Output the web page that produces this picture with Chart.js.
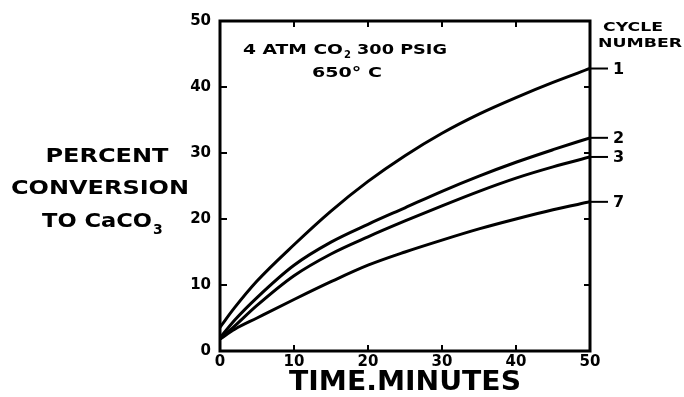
<!DOCTYPE html>
<html>
<head>
<meta charset="utf-8">
<script src="https://cdn.jsdelivr.net/npm/chart.js@4.4.0/dist/chart.umd.min.js"></script>
<style>
  body { margin: 0; background: #fff; }
  canvas { display: block; }
</style>
</head>
<body>
<canvas id="conversionChart" width="684" height="397"></canvas>
<script>
const minutes = [0, 2, 5, 10, 15, 20, 25, 30, 35, 40, 45, 50];
const cycle1 = [3.6, 6.6, 10.6, 16.1, 21.2, 25.7, 29.6, 33, 35.9, 38.4, 40.7, 42.8];
const cycle2 = [2, 4.7, 8.1, 13, 16.5, 19.2, 21.7, 24.2, 26.5, 28.6, 30.5, 32.3];
const cycle3 = [1.8, 3.8, 6.9, 11.4, 14.7, 17.3, 19.7, 22, 24.2, 26.2, 27.9, 29.4];
const cycle7 = [1.8, 3.3, 5, 7.8, 10.5, 13, 15, 16.8, 18.5, 20, 21.4, 22.6];
const cycleLabels = ["1", "2", "3", "7"];
const tickValues = [10, 20, 30, 40];

const FONT = "'DejaVu Sans', sans-serif";

function toPoints(values) {
  return values.map((v, i) => ({ x: minutes[i], y: v }));
}

// draw text squeezed/stretched to a given width
function fitText(ctx, text, x, y, size, width, align) {
  ctx.save();
  ctx.font = "bold " + size + "px " + FONT;
  const w = ctx.measureText(text).width;
  const k = width ? width / w : 1;
  let left = x;
  if (align === "center") left = x - (w * k) / 2;
  if (align === "right") left = x - w * k;
  ctx.translate(left, y);
  ctx.scale(k, 1);
  ctx.textAlign = "left";
  ctx.textBaseline = "middle";
  ctx.fillText(text, 0, 0);
  ctx.restore();
  return w * k;
}

const decorations = {
  id: "decorations",
  afterDraw(chart) {
    const ctx = chart.ctx;
    const area = chart.chartArea;
    const xs = chart.scales.x;
    const ys = chart.scales.y;
    ctx.save();
    ctx.fillStyle = "#000";
    ctx.strokeStyle = "#000";

    // frame
    ctx.lineWidth = 3;
    ctx.strokeRect(area.left, area.top, area.right - area.left, area.bottom - area.top);

    // inner ticks
    ctx.lineWidth = 2;
    ctx.beginPath();
    tickValues.forEach((v) => {
      const px = xs.getPixelForValue(v);
      ctx.moveTo(px, area.bottom);
      ctx.lineTo(px, area.bottom - 6);
      ctx.moveTo(px, area.top);
      ctx.lineTo(px, area.top + 6);
      const py = ys.getPixelForValue(v);
      ctx.moveTo(area.left, py);
      ctx.lineTo(area.left + 7, py);
      ctx.moveTo(area.right, py);
      ctx.lineTo(area.right - 6, py);
    });
    ctx.stroke();

    // cycle labels at the end of each curve
    chart.data.datasets.forEach((ds, i) => {
      const meta = chart.getDatasetMeta(i);
      const last = meta.data[meta.data.length - 1];
      ctx.lineWidth = 2;
      ctx.beginPath();
      ctx.moveTo(area.right, last.y);
      ctx.lineTo(area.right + 18, last.y);
      ctx.stroke();
      fitText(ctx, cycleLabels[i], area.right + 23, last.y + 1, 16, null, "left");
    });

    // right header
    fitText(ctx, "CYCLE", 633, 28, 13, 60, "center");
    fitText(ctx, "NUMBER", 640, 44, 13, 84, "center");

    // y title
    fitText(ctx, "PERCENT", 107, 157, 20, 123, "center");
    fitText(ctx, "CONVERSION", 100, 189, 20, 178, "center");
    let w = fitText(ctx, "TO CaCO", 42, 222, 20, 110, "left");
    fitText(ctx, "3", 42 + w + 1, 230, 14, null, "left");

    // x title
    fitText(ctx, "TIME.MINUTES", 405, 383, 26, 232, "center");

    // annotation
    w = fitText(ctx, "4 ATM CO", 243, 50, 14, 100, "left");
    fitText(ctx, "2", 243 + w + 1, 55, 10, null, "left");
    fitText(ctx, "300 PSIG", 357, 50, 14, 90, "left");
    fitText(ctx, "650\u00B0 C", 347, 73, 14, 70, "center");

    ctx.restore();
  },
};

const lineStyle = {
  borderColor: "#000",
  borderWidth: 3,
  pointRadius: 0,
  fill: false,
  cubicInterpolationMode: "monotone",
};

const config = {
  type: "line",
  data: {
    datasets: [
      { label: "Cycle 1", data: toPoints(cycle1), ...lineStyle },
      { label: "Cycle 2", data: toPoints(cycle2), ...lineStyle },
      { label: "Cycle 3", data: toPoints(cycle3), ...lineStyle },
      { label: "Cycle 7", data: toPoints(cycle7), ...lineStyle },
    ],
  },
  options: {
    responsive: false,
    animation: false,
    layout: {
      padding: { left: 0, right: 94, top: 21, bottom: 0 },
    },
    plugins: {
      legend: { display: false },
      tooltip: { enabled: false },
    },
    scales: {
      x: {
        type: "linear",
        min: 0,
        max: 50,
        ticks: {
          stepSize: 10,
          color: "#000",
          padding: 2,
          font: { family: FONT, size: 15, weight: "bold" },
        },
        grid: { display: false, drawTicks: false },
        border: { display: false },
        afterFit: (scale) => { scale.height = 46; },
      },
      y: {
        type: "linear",
        min: 0,
        max: 50,
        ticks: {
          stepSize: 10,
          color: "#000",
          padding: 9,
          font: { family: FONT, size: 15, weight: "bold" },
        },
        grid: { display: false, drawTicks: false },
        border: { display: false },
        afterFit: (scale) => { scale.width = 220; },
      },
    },
  },
  plugins: [decorations],
};

var conversionChart = new Chart(document.getElementById("conversionChart"), config);
</script>
</body>
</html>
